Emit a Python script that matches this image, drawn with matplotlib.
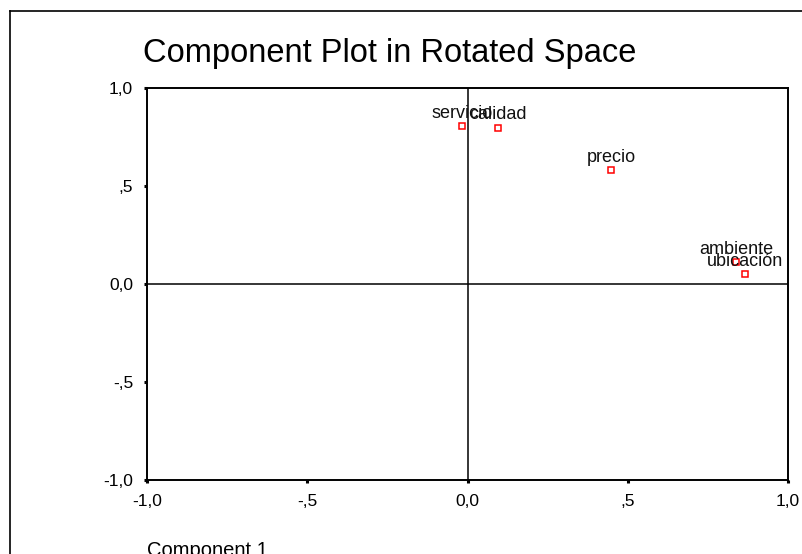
import matplotlib
matplotlib.use('Agg')
import matplotlib.pyplot as plt
from matplotlib.lines import Line2D

plt.rcParams['font.family'] = ['Liberation Sans', 'DejaVu Sans']

## Datos (cargas rotadas de los componentes)
variables = ['servicio', 'calidad', 'precio', 'ambiente', 'ubicación']
comp1 = [-0.017, 0.094, 0.448, 0.838, 0.865]
comp2 = [0.806, 0.797, 0.580, 0.110, 0.049]

ticks = [-1.0, -0.5, 0.0, 0.5, 1.0]
tick_labels = ['-1,0', '-,5', '0,0', ',5', '1,0']

W, H = 802, 554
fig = plt.figure(figsize=(W / 100, H / 100), dpi=100)
ax = fig.add_axes([147 / W, 1 - 480 / H, 641 / W, 392 / H])

# Marco exterior (solo lados superior e izquierdo visibles)
fig.add_artist(Line2D([10 / W, 1.0], [1 - 11 / H, 1 - 11 / H], transform=fig.transFigure,
                      color='black', linewidth=1.2))
fig.add_artist(Line2D([10 / W, 10 / W], [0.0, 1 - 11 / H], transform=fig.transFigure,
                      color='black', linewidth=1.2))

# Lineas de referencia en cero
ax.axhline(0, color='black', linewidth=1.1, zorder=1)
ax.axvline(0, color='black', linewidth=1.1, zorder=1)

ax.plot(comp1, comp2, linestyle='none', marker='s', markersize=5,
        markerfacecolor='none', markeredgecolor='#ff0000', markeredgewidth=1.1, zorder=3)

for name, x, y in zip(variables, comp1, comp2):
    ax.annotate(name, (x, y), xytext=(0, 6), textcoords='offset points',
                ha='center', va='baseline', fontsize=13, color='#111111')

ax.set_xlim(-1, 1)
ax.set_ylim(-1, 1)
ax.set_xticks(ticks)
ax.set_yticks(ticks)
ax.set_xticklabels(tick_labels)
ax.set_yticklabels(tick_labels)
ax.tick_params(direction='out', length=2, width=2.2, labelsize=12.5, colors='black')
ax.tick_params(axis='x', pad=8)
ax.tick_params(axis='y', pad=8)

for side in ax.spines.values():
    side.set_linewidth(1.4)

fig.text(143 / W, 1 - 62 / H, 'Component Plot in Rotated Space', fontsize=23.5,
         ha='left', va='baseline')
fig.text(147 / W, 1 - 556 / H, 'Component 1', fontsize=14.5, ha='left', va='baseline')

fig.savefig('out.png', dpi=100)
